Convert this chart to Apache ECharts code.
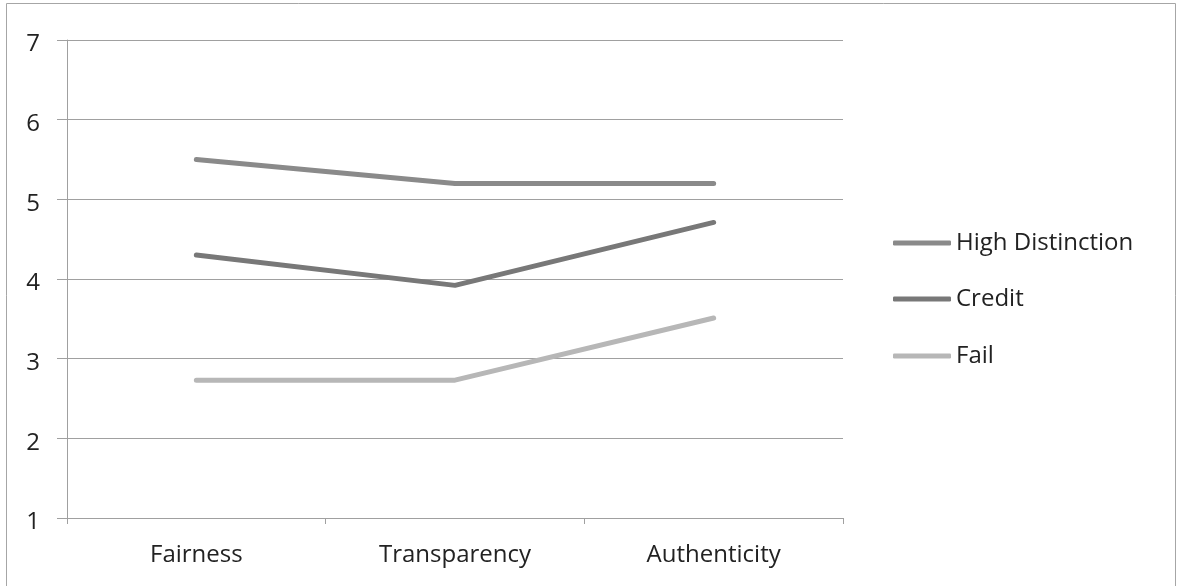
<!DOCTYPE html>
<html>
<head>
<meta charset="utf-8">
<script src="https://cdn.jsdelivr.net/npm/echarts@6/dist/echarts.min.js"></script>
<style>
  html, body { margin: 0; padding: 0; background: #fff; }
  #chart { width: 1178px; height: 586px; }
</style>
</head>
<body>
<div id="chart"></div>
<script>
// Mean ratings per criterion for each grade band
const categories = ['Fairness', 'Transparency', 'Authenticity'];
const seriesNames = ['High Distinction', 'Credit', 'Fail'];
const highDistinction = [5.5, 5.2, 5.2];
const credit = [4.3, 3.92, 4.71];
const fail = [2.73, 2.73, 3.51];
const yTicks = [1, 2, 3, 4, 5, 6, 7];

const colors = ['#8a8a8a', '#787878', '#b7b7b7'];
const fontFamily = '"Open Sans", Lato, sans-serif';
const fontSize = 24;
const seriesData = [highDistinction, credit, fail];

const chart = echarts.init(document.getElementById('chart'), null, { renderer: 'canvas' });

// one legend block per series so each row sits at its own height
const legendRows = [243, 299, 356];
const rowHeight = 26;
const legends = seriesNames.map((name, i) => ({
  data: [name],
  left: 893,
  top: legendRows[i] - rowHeight / 2,
  orient: 'vertical',
  icon: 'roundRect',
  itemWidth: 58,
  itemHeight: 5,
  padding: 0,
  selectedMode: false,
  textStyle: { fontFamily, fontSize, lineHeight: rowHeight, color: '#222', padding: 0 }
}));

chart.setOption({
  animation: false,
  backgroundColor: '#fff',
  graphic: [{
    type: 'rect',
    shape: { x: 6.5, y: 3.5, width: 1169, height: 590 },
    style: { fill: 'none', stroke: '#a6a6a6', lineWidth: 1 },
    silent: true
  }],
  legend: legends,
  grid: { left: 67, right: 335, top: 40, bottom: 68, containLabel: false },
  xAxis: {
    type: 'category',
    data: categories,
    boundaryGap: true,
    axisLine: { lineStyle: { color: '#a0a0a0', width: 1 } },
    axisTick: { show: true, length: 6, lineStyle: { color: '#a0a0a0' } },
    axisLabel: { fontFamily, fontSize, lineHeight: rowHeight, color: '#222', margin: 24 },
    splitLine: { show: false }
  },
  yAxis: {
    type: 'value',
    min: yTicks[0],
    max: yTicks[yTicks.length - 1],
    interval: 1,
    axisLine: { show: true, lineStyle: { color: '#a0a0a0', width: 1 } },
    axisTick: { show: true, length: 10, lineStyle: { color: '#a0a0a0' } },
    axisLabel: {
      color: '#222',
      margin: 27,
      formatter: '{v|{value}}',
      rich: { v: { fontFamily, fontSize, color: '#222', lineHeight: 26, padding: [9, 0, 0, 0] } }
    },
    splitLine: { show: true, lineStyle: { color: '#a0a0a0', width: 1 } }
  },
  series: seriesNames.map((name, i) => ({
    name,
    type: 'line',
    data: seriesData[i],
    symbol: 'none',
    color: colors[i],
    lineStyle: { width: 5, color: colors[i], cap: 'round', join: 'round' },
    z: 3 - i
  }))
});
</script>
</body>
</html>
